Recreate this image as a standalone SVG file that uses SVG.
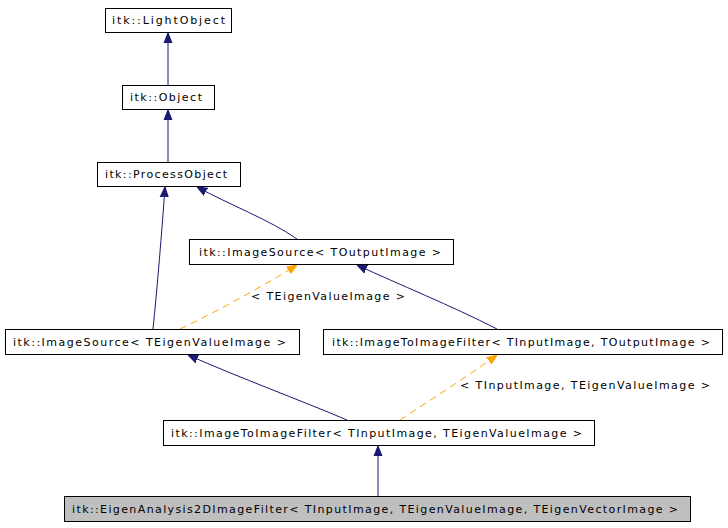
<svg xmlns="http://www.w3.org/2000/svg" width="728" height="528" viewBox="0 0 728 528">
<style>
.n rect{fill:#fff;stroke:#000;stroke-width:1}
text{font-family:"DejaVu Sans",sans-serif;font-size:11px;fill:#000}
.e{stroke:#191970;fill:none;stroke-width:1}
.t{stroke:#FFA500;fill:none;stroke-width:1;stroke-dasharray:7,5}
</style>
<defs>
<marker id="a" viewBox="0 0 10 10" refX="10" refY="5" markerWidth="10" markerHeight="10" markerUnits="userSpaceOnUse" orient="auto"><path d="M0,1L10,5L0,9z" fill="#191970" stroke="#191970"/></marker>
<marker id="o" viewBox="0 0 10 10" refX="10" refY="5" markerWidth="10" markerHeight="10" markerUnits="userSpaceOnUse" orient="auto"><path d="M0,1L10,5L0,9z" fill="#FFA500" stroke="#FFA500"/></marker>
</defs>
<rect width="728" height="528" fill="#fff"/>
<g id="edges">
<path class="e" d="M168,85V33" marker-end="url(#a)"/>
<path class="e" d="M168,162V110" marker-end="url(#a)"/>
<path class="e" d="M297,239C270,220 230,205 197,187" marker-end="url(#a)"/>
<path class="e" d="M153,329C157,290 162,230 165,187" marker-end="url(#a)"/>
<path class="t" d="M180,329C220,310 265,285 297,265" marker-end="url(#o)"/>
<text x="251" y="300" textLength="154" lengthAdjust="spacing">&lt; TEigenValueImage &gt;</text>
<path class="e" d="M497,329C450,305 400,285 357,265" marker-end="url(#a)"/>
<path class="e" d="M347,420C300,400 240,378 188,355" marker-end="url(#a)"/>
<path class="t" d="M400,420C430,400 470,375 497,355" marker-end="url(#o)"/>
<text x="460" y="389" textLength="250" lengthAdjust="spacing">&lt; TInputImage, TEigenValueImage &gt;</text>
<path class="e" d="M378,496V446" marker-end="url(#a)"/>
</g>
<g id="n1" class="n"><rect x="105.500" y="8.500" width="126" height="24"/><text x="112" y="24" textLength="113" lengthAdjust="spacing">itk::LightObject</text></g>
<g id="n2" class="n"><rect x="122.500" y="85.500" width="92" height="24"/><text x="130" y="101" textLength="72" lengthAdjust="spacing">itk::Object</text></g>
<g id="n3" class="n"><rect x="97.500" y="162.500" width="143" height="24"/><text x="105" y="178" textLength="122" lengthAdjust="spacing">itk::ProcessObject</text></g>
<g id="n4" class="n"><rect x="189.500" y="239.500" width="264" height="25"/><text x="199" y="256" textLength="242" lengthAdjust="spacing">itk::ImageSource&lt; TOutputImage &gt;</text></g>
<g id="n5" class="n"><rect x="5.500" y="329.500" width="294" height="25"/><text x="13" y="346" textLength="273" lengthAdjust="spacing">itk::ImageSource&lt; TEigenValueImage &gt;</text></g>
<g id="n6" class="n"><rect x="323.500" y="329.500" width="399" height="25"/><text x="332" y="346" textLength="378" lengthAdjust="spacing">itk::ImageToImageFilter&lt; TInputImage, TOutputImage &gt;</text></g>
<g id="n7" class="n"><rect x="163.500" y="420.500" width="431" height="25"/><text x="171" y="437" textLength="411" lengthAdjust="spacing">itk::ImageToImageFilter&lt; TInputImage, TEigenValueImage &gt;</text></g>
<g id="n8" class="n"><rect x="64.500" y="496.500" width="626" height="25" style="fill:#bfbfbf"/><text x="72" y="513" textLength="606" lengthAdjust="spacing">itk::EigenAnalysis2DImageFilter&lt; TInputImage, TEigenValueImage, TEigenVectorImage &gt;</text></g>
</svg>
